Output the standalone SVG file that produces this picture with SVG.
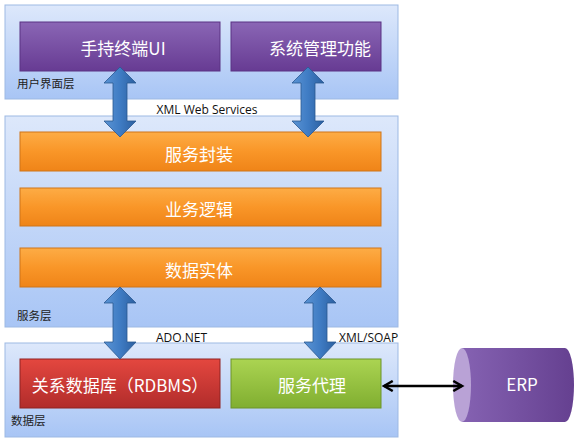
<svg xmlns="http://www.w3.org/2000/svg" width="580" height="447" viewBox="0 0 580 447">
<defs>
<linearGradient id="gLayer" x1="0" y1="0" x2="0" y2="1"><stop offset="0" stop-color="#dde8fb"/><stop offset="1" stop-color="#a8c5f5"/></linearGradient>
<linearGradient id="gPurple" x1="0" y1="0" x2="0" y2="1"><stop offset="0" stop-color="#8a66b5"/><stop offset="1" stop-color="#673b93"/></linearGradient>
<linearGradient id="gOrange" x1="0" y1="0" x2="0" y2="1"><stop offset="0" stop-color="#fdac45"/><stop offset="0.5" stop-color="#f99628"/><stop offset="1" stop-color="#ef8418"/></linearGradient>
<linearGradient id="gRed" x1="0" y1="0" x2="0" y2="1"><stop offset="0" stop-color="#e4473f"/><stop offset="1" stop-color="#b12c2b"/></linearGradient>
<linearGradient id="gGreen" x1="0" y1="0" x2="0" y2="1"><stop offset="0" stop-color="#abd452"/><stop offset="1" stop-color="#80ae30"/></linearGradient>
<linearGradient id="gBlue" x1="0" y1="0" x2="1" y2="0"><stop offset="0" stop-color="#5b94d4"/><stop offset="0.5" stop-color="#3f7cc4"/><stop offset="1" stop-color="#2c5f9f"/></linearGradient>
<linearGradient id="gCyl" x1="0" y1="0" x2="1" y2="0"><stop offset="0" stop-color="#8562b2"/><stop offset="1" stop-color="#654090"/></linearGradient>
<marker id="ah" viewBox="0 0 10 10" refX="8" refY="5" markerWidth="5" markerHeight="5" orient="auto-start-reverse"><path d="M1,1 L8,5 L1,9" fill="none" stroke="#000" stroke-width="2"/></marker>
</defs>
<style>
.layer{fill:url(#gLayer);stroke:#9db9e3;stroke-width:1}
.box{stroke-width:1}
.purple{fill:url(#gPurple);stroke:#5b3283}
.orange{fill:url(#gOrange);stroke:#cf7418}
.red{fill:url(#gRed);stroke:#8f2322}
.green{fill:url(#gGreen);stroke:#6c9428}
.t{font-family:"Noto Sans CJK SC","Noto Sans",sans-serif;font-size:17px;fill:#fff;text-anchor:middle;dominant-baseline:central}
.lbl{font-family:"Noto Sans CJK SC","Noto Sans",sans-serif;font-size:11.5px;fill:#222;dominant-baseline:central}
.en{font-family:"Open Sans","Noto Sans",sans-serif;font-size:12px;fill:#111;dominant-baseline:central}
.barrow{fill:url(#gBlue);stroke:#2a5891;stroke-width:0.8}
</style>
<g id="layer-ui">
<rect class="layer" x="5" y="5" width="393" height="94"/>
<text class="lbl" x="17" y="83">用户界面层</text>
</g>
<g id="layer-service">
<rect class="layer" x="5" y="116" width="393" height="211"/>
<text class="lbl" x="17" y="315">服务层</text>
</g>
<g id="layer-data">
<rect class="layer" x="5" y="343" width="393" height="94"/>
<text class="lbl" x="11" y="420">数据层</text>
</g>
<g id="node-handheld"><rect class="box purple" x="20" y="22" width="200" height="49"/><text class="t" x="123" y="47">手持终端UI</text></g>
<g id="node-sysmgmt"><rect class="box purple" x="231" y="22" width="150" height="49"/><text class="t" x="320" y="47">系统管理功能</text></g>
<g id="node-svcwrap"><rect class="box orange" x="20" y="132" width="361" height="39"/><text class="t" x="199" y="153">服务封装</text></g>
<g id="node-bizlogic"><rect class="box orange" x="20" y="188" width="361" height="38"/><text class="t" x="199" y="208">业务逻辑</text></g>
<g id="node-entity"><rect class="box orange" x="20" y="248" width="361" height="39"/><text class="t" x="199" y="269">数据实体</text></g>
<g id="node-rdbms"><rect class="box red" x="20" y="359" width="200" height="49"/><text class="t" x="120" y="384">关系数据库（RDBMS）</text></g>
<g id="node-proxy"><rect class="box green" x="231" y="359" width="150" height="49"/><text class="t" x="312" y="384">服务代理</text></g>
<g id="node-erp">
<path d="M462,348 L565,348 A9,37 0 0 1 565,422 L462,422 Z" fill="url(#gCyl)"/>
<ellipse cx="462" cy="385" rx="9" ry="37" fill="#b9a2d6"/>
<text class="t" x="522" y="383">ERP</text>
</g>
<g id="connectors">
<path class="barrow" d="M120,67 L136,83 L127,83 L127,121 L136,121 L120,137 L104,121 L113,121 L113,83 L104,83 Z"/>
<path class="barrow" d="M308,67 L324,83 L315,83 L315,121 L324,121 L308,137 L292,121 L301,121 L301,83 L292,83 Z"/>
<path class="barrow" d="M120,287 L136,303 L127,303 L127,342 L136,342 L120,359 L104,342 L113,342 L113,303 L104,303 Z"/>
<path class="barrow" d="M320,287 L336,303 L327,303 L327,342 L336,342 L320,359 L304,342 L313,342 L313,303 L304,303 Z"/>
<line x1="384" y1="386" x2="462" y2="386" stroke="#000" stroke-width="2.5" marker-start="url(#ah)" marker-end="url(#ah)"/>
<text class="en" x="207" y="109" text-anchor="middle">XML Web Services</text>
<text class="en" x="156" y="337">ADO.NET</text>
<text class="en" x="339" y="337">XML/SOAP</text>
</g>
</svg>
